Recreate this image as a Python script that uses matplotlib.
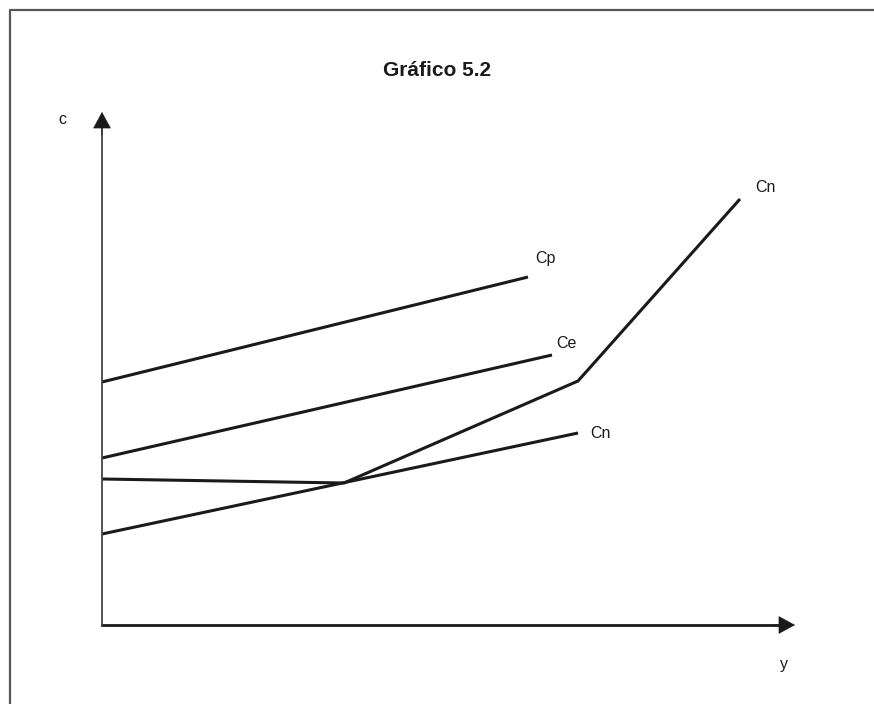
import matplotlib
matplotlib.use("Agg")
import matplotlib.pyplot as plt
from matplotlib.lines import Line2D

plt.rcParams['font.family'] = ['Liberation Sans', 'DejaVu Sans']

# Data (arbitrary units)
cp_x = [0, 42.6]
cp_y = [24.3, 34.8]
ce_x = [0, 45.0]
ce_y = [16.7, 27.0]
cn_lin_x = [0, 47.6]
cn_lin_y = [9.1, 19.2]
cn_kink_x = [0, 24.2, 47.6, 63.8]
cn_kink_y = [14.6, 14.2, 24.4, 42.6]
labels = ["Cp", "Ce", "Cn", "Cn"]
title = "Gráfico 5.2"

W, H = 874, 704
fig = plt.figure(figsize=(W / 100, H / 100), dpi=100)

# axes: origin at pixel (102, 625); 1 unit = 10 px
x0, y0 = 102, 625
xmax, ymax = 70, 52
ax = fig.add_axes([x0 / W, (H - y0) / H, xmax * 10 / W, ymax * 10 / H])
ax.set_xlim(0, xmax)
ax.set_ylim(0, ymax)
ax.axis('off')

lw = 2.2
col = '#1a1a1a'
ax.plot(cp_x, cp_y, color=col, lw=lw, solid_capstyle='butt')
ax.plot(ce_x, ce_y, color=col, lw=lw, solid_capstyle='butt')
ax.plot(cn_lin_x, cn_lin_y, color=col, lw=lw, solid_capstyle='butt')
ax.plot(cn_kink_x, cn_kink_y, color=col, lw=lw, solid_capstyle='butt', solid_joinstyle='miter')

# axes lines with arrows
ax.plot([0, 67.6], [0, 0], color=col, lw=2.0, clip_on=False)
ax.plot([0, 0], [0, 49.7], color='#444444', lw=1.3, clip_on=False)
ax.annotate('', xy=(69.3, 0), xytext=(67.0, 0),
            arrowprops=dict(arrowstyle='-|>,head_length=1.1,head_width=0.6',
                            color=col, lw=0.5, shrinkA=0, shrinkB=0),
            annotation_clip=False)
ax.annotate('', xy=(0, 51.3), xytext=(0, 49.0),
            arrowprops=dict(arrowstyle='-|>,head_length=1.1,head_width=0.6',
                            color=col, lw=0.5, shrinkA=0, shrinkB=0),
            annotation_clip=False)

fs = 11.5
ax.text(cp_x[-1] + 1.7, cp_y[-1] + 1.9, labels[0], fontsize=fs, ha='center', va='center', color=col)
ax.text(ce_x[-1] + 1.4, ce_y[-1] + 1.2, labels[1], fontsize=fs, ha='center', va='center', color=col)
ax.text(cn_lin_x[-1] + 1.2, cn_lin_y[-1], labels[2], fontsize=fs, ha='left', va='center', color=col)
ax.text(cn_kink_x[-1] + 1.5, cn_kink_y[-1] + 1.1, labels[3], fontsize=fs, ha='left', va='center', color=col)
ax.text(-4.0, 50.6, 'c', fontsize=fs, ha='center', va='center', color=col)
ax.text(68.2, -4.0, 'y', fontsize=fs, ha='center', va='center', color=col)

fig.text(437 / W, 1 - 70 / H, title, fontsize=15, fontweight='bold', ha='center', va='center', color=col)

# frame (top and left edges visible)
fig.add_artist(Line2D([10 / W, 10 / W, 1.0], [0.0, 1 - 9.5 / H, 1 - 9.5 / H],
                      transform=fig.transFigure, color='#555555', lw=1.6))

fig.savefig('out.png', dpi=100)
